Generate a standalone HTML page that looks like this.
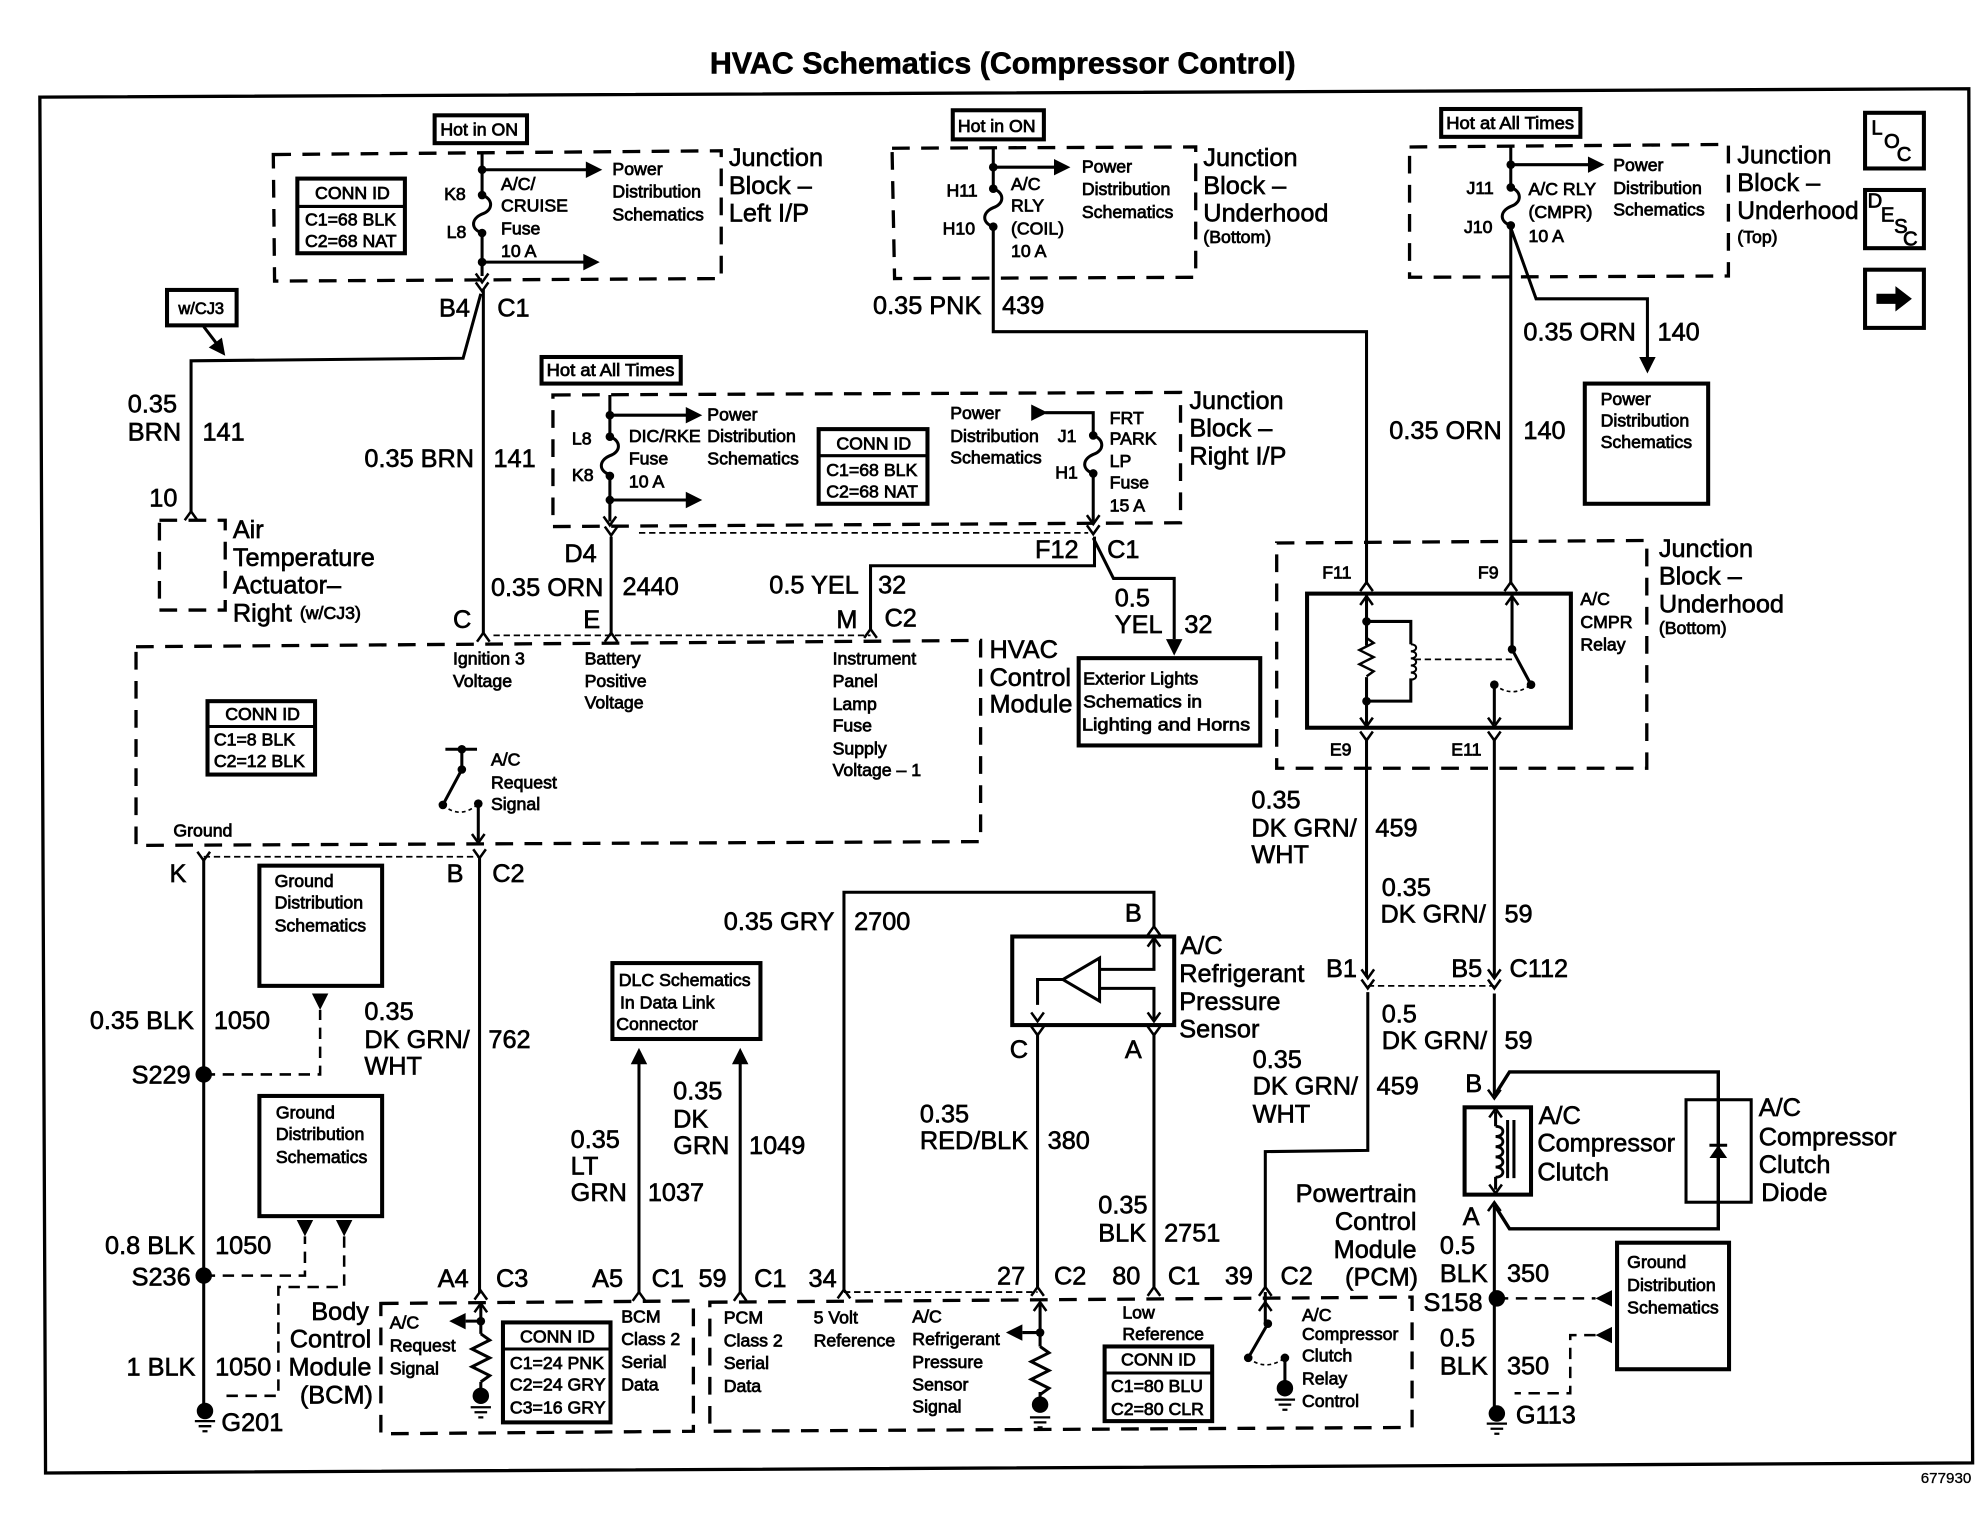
<!DOCTYPE html>
<html><head><meta charset="utf-8"><title>HVAC Schematics (Compressor Control)</title>
<style>
html,body{margin:0;padding:0;background:#fff;width:1984px;height:1520px;overflow:hidden}
svg{display:block}
text{font-family:"Liberation Sans",sans-serif;fill:#000;stroke:#000;stroke-width:.5}
.l text{font-size:20px}
.s text{font-size:14px;stroke-width:.6}
.w{fill:none;stroke:#000;stroke-width:2.4}
.b{fill:none;stroke:#000;stroke-width:3.2}
.d{fill:none;stroke:#000;stroke-width:2.6;stroke-dasharray:14 9}
.t{fill:none;stroke:#000;stroke-width:1.4;stroke-dasharray:5 3}
.a{fill:none;stroke:#000;stroke-width:1.3;stroke-dasharray:3 2.5}
</style></head><body>
<svg xmlns="http://www.w3.org/2000/svg" width="1984" height="1520" viewBox="0 0 1568 1201">
<defs>
<polygon id="ar" points="0,0 -13,-6.5 -13,6.5" fill="#000"/>
<path id="up" d="M-5 6L0 -1L5 6" fill="none" stroke="#000" stroke-width="2"/>
<path id="dn" d="M-5 -6L0 1L5 -6" fill="none" stroke="#000" stroke-width="2"/>
<circle id="p" r="3.4" fill="#000"/>
<circle id="P" r="6.5" fill="#000"/>
<path id="fr" d="M0 0C9 3 9 12 0 15C-9 19 -9 27 0 30" fill="none" stroke="#000" stroke-width="2.4"/>
<path id="zz" d="M0 0L7 5L-7 12L7 19L-7 26L7 33L0 38" fill="none" stroke="#000" stroke-width="2.4"/>
<path id="g" d="M-8 0H8M-5 4H5M-2 8H2" fill="none" stroke="#000" stroke-width="1.8"/>
<path id="coil" d="M0 0c7 0 7 7 0 7c7 0 7 7 0 7c7 0 7 7 0 7c7 0 7 7 0 7c7 0 7 7 0 7" fill="none" stroke="#000" stroke-width="2"/>
</defs>

<text x="561" y="58" style="font-size:24px;font-weight:bold;stroke-width:.45" textLength="463" lengthAdjust="spacingAndGlyphs">HVAC Schematics (Compressor Control)</text>
<polygon class="w" style="stroke-width:2.6" points="31.5,76.6 1556,70 1559,1156 36,1164"/>

<!-- boxes -->
<g class="b">
<rect x="343.500" y="91" width="73" height="22" class="b"/>
<rect x="235" y="141" width="85" height="59" class="b"/>
<rect x="132" y="229" width="55" height="28" class="b"/>
<rect x="428" y="282" width="110" height="21" class="b"/>
<rect x="647" y="339" width="86" height="59" class="b"/>
<rect x="753" y="87" width="72" height="23" class="b"/>
<rect x="1139" y="86" width="110" height="22" class="b"/>
<rect x="852.500" y="520" width="143.500" height="69" class="b"/>
<rect x="164" y="554" width="85" height="58" class="b"/>
<rect x="205" y="684" width="97" height="95" class="b"/>
<rect x="205" y="866" width="97" height="95" class="b"/>
<rect x="397.500" y="1045" width="85" height="79" class="b"/>
<rect x="484" y="761" width="117" height="60" class="b"/>
<rect x="800" y="740" width="128" height="70" class="b"/>
<rect x="873" y="1064" width="85" height="59" class="b"/>
<rect x="1252.500" y="303" width="97.500" height="95" class="b"/>
<rect x="1474" y="89" width="46.500" height="44" class="b"/>
<rect x="1474" y="150" width="46.500" height="46" class="b"/>
<rect x="1474" y="213" width="46.500" height="46" class="b"/>
<rect x="1033" y="469" width="208.500" height="106" class="b"/>
<rect x="1157.500" y="875" width="52.500" height="69" class="b"/>
<rect x="1332.500" y="869" width="51.500" height="81" class="w"/>
<rect x="1278" y="982" width="88.500" height="100" class="b"/>
</g>
<path class="w" d="M235 163H320M647 360H733M164 574H249M397.500 1066H482.500M873 1085H958"/>

<!-- dashed housings -->
<g>
<polygon class="d" points="216,122 570,119 570,220 217,222"/>
<polygon class="d" points="437,312 933,310 933,413 437,416"/>
<polygon class="d" points="705,117 945,116 945,219 707,220"/>
<polygon class="d" points="1114,116 1366,114 1366,218 1114,219"/>
<polygon class="d" points="126,411 178,411 178,482 126,482"/>
<polygon class="d" points="107.500,511 775,506 775,665 107.500,668"/>
<polygon class="d" points="1009,429 1301.500,427 1301.500,607 1009,607"/>
<polygon class="d" points="301,1030 548,1028 548,1131 301,1133"/>
<polygon class="d" points="561,1029 1116,1025 1116,1128 561,1131"/>
</g>

<!-- thin dashed connector shells -->
<path class="t" d="M505 421H860M390 502H688M161 677H379M667 1021H820M1081 779H1181"/>
<path class="d" style="stroke-width:2;stroke-dasharray:9 6" d="M161 849H253V798M161 1008H241V977M272 977V1017H220V1103H175M1183 1026H1261M1261 1055H1241V1101H1197"/>

<!-- wires -->
<path class="w" d="M381 121V154M381 184V218M381 134H464M381 207H462"/>
<path class="w" d="M382 228V500M380 232L366 283L151 285V405M161 258L174 275"/>
<path class="w" d="M482 312V345M482 376V412M482 328H543M482 395H543M483 424V502"/>
<path class="w" d="M826 326H864V344M864 374V412M865 424V447H688V498M864 425L880 457H928V505"/>
<path class="w" d="M785 117V149M785 179V262H1080V462M785 132H833"/>
<path class="w" d="M1194 115V148M1194 178V462M1194 180L1214 236H1302V283M1194 130H1256"/>
<path class="w" d="M365 592V608L350 636M352 592H377M378 635V664"/>
<path class="w" d="M161 678V1115M379 678V1022"/>
<path class="w" d="M505 840V1022M585 840V1022"/>
<path class="w" d="M667 1021V705H912V733"/>
<path class="w" d="M820 816V1018M912 816V1018"/>
<path class="w" d="M840 774H820V794M869 766H912V752M869 781H912V794M912 741V766M912 781V806"/>
<polygon points="840,774 869,757 869,791" fill="#fff" stroke="#000" stroke-width="2.4"/>
<path class="w" d="M380 1030V1054M380 1044H368M380 1092V1103"/>
<path class="w" d="M822 1030V1064M822 1053H808M822 1100V1110"/>
<path class="w" d="M1000 1021V1030M1002 1046L986.500 1073M1000 1030V1046M1015.500 1073V1097"/>
<path class="w" d="M1081 784V909L1000 910V1018"/>
<!-- relay -->
<path class="w" d="M1080 583V772M1181 583V772M1080 470V510M1080 535V574M1080 491H1115V509M1115 536V554H1080M1195 470V513L1210 541M1181 541V572"/>
<path class="t" d="M1118 521H1195"/>
<!-- clutch -->
<path class="w" d="M1181 785V866M1181 952V1117M1182 878V890M1182 930V940"/>
<path class="w" style="stroke-width:2.7" d="M1181 866L1193 847H1358V971H1193L1181 952"/>
<path class="w" d="M1191.500 885V931M1196.500 885V931"/>
<path d="M1351 905H1365" class="w"/>
<polygon points="1358,905 1351,915 1365,915" fill="#000"/>

<!-- fuses, resistors, coils -->
<use href="#fr" transform="translate(381,154)"/>
<use href="#fr" transform="translate(482,345)"/>
<use href="#fr" transform="translate(864,344)"/>
<use href="#fr" transform="translate(785,149)"/>
<use href="#fr" transform="translate(1194,148)"/>
<use href="#zz" transform="translate(380,1054)"/>
<use href="#zz" transform="translate(822,1064)"/>
<use href="#zz" transform="translate(1080,504) scale(.8)"/>
<use href="#coil" transform="translate(1115,509) scale(.8,.8)"/>
<use href="#coil" transform="translate(1182,890) scale(1.1,1.15)"/>

<!-- dots -->
<g>
<use href="#p" x="381" y="134"/><use href="#p" x="381" y="154"/><use href="#p" x="381" y="184"/><use href="#p" x="381" y="207"/>
<use href="#p" x="482" y="328"/><use href="#p" x="482" y="345"/><use href="#p" x="482" y="376"/><use href="#p" x="482" y="395"/>
<use href="#p" x="864" y="344"/><use href="#p" x="864" y="374"/>
<use href="#p" x="785" y="132"/><use href="#p" x="785" y="149"/><use href="#p" x="785" y="179"/>
<use href="#p" x="1194" y="130"/><use href="#p" x="1194" y="148"/><use href="#p" x="1194" y="178"/>
<use href="#p" x="365" y="592"/><use href="#p" x="365" y="608"/><use href="#p" x="350" y="636"/><use href="#p" x="378" y="635"/>
<use href="#p" x="1080" y="491"/><use href="#p" x="1080" y="554"/><use href="#p" x="1195" y="513"/><use href="#p" x="1210" y="541"/><use href="#p" x="1181" y="541"/>
<use href="#p" x="380" y="1044"/><use href="#p" x="822" y="1053"/><use href="#p" x="1002" y="1046"/><use href="#p" x="986.500" y="1073"/><use href="#p" x="1015.500" y="1073"/>
<use href="#P" x="161" y="849"/><use href="#P" x="161" y="1008"/><use href="#P" x="162" y="1115"/>
<use href="#P" x="380" y="1103"/><use href="#P" x="822" y="1110"/><use href="#P" x="1015.500" y="1097"/>
<use href="#P" x="1183" y="1026"/><use href="#P" x="1183" y="1117"/>
</g>
<use href="#g" x="162" y="1123"/><use href="#g" x="380" y="1112"/><use href="#g" x="822" y="1120"/><use href="#g" x="1015.500" y="1106"/><use href="#g" x="1183" y="1125"/>

<!-- dashed arcs of switches -->
<path class="a" d="M350 636Q364 648 378 635"/>
<path class="a" d="M986.500 1073Q1000 1084 1015.500 1073"/>
<path class="a" d="M1181 541Q1195 552 1210 541"/>

<!-- arrowheads -->
<use href="#ar" transform="translate(476,134)"/>
<use href="#ar" transform="translate(474,207)"/>
<use href="#ar" transform="translate(555,328)"/>
<use href="#ar" transform="translate(555,395)"/>
<use href="#ar" transform="translate(828,326)"/>
<use href="#ar" transform="translate(846,132)"/>
<use href="#ar" transform="translate(1268,130)"/>
<use href="#ar" transform="translate(178,281) rotate(53)"/>
<use href="#ar" transform="translate(928,518) rotate(90)"/>
<use href="#ar" transform="translate(1302,295) rotate(90)"/>
<use href="#ar" transform="translate(253,798) rotate(90)"/>
<use href="#ar" transform="translate(241,977) rotate(90)"/>
<use href="#ar" transform="translate(272,977) rotate(90)"/>
<use href="#ar" transform="translate(505,828) rotate(-90)"/>
<use href="#ar" transform="translate(585,828) rotate(-90)"/>
<use href="#ar" transform="translate(355,1044) rotate(180)"/>
<use href="#ar" transform="translate(795,1053) rotate(180)"/>
<use href="#ar" transform="translate(1261,1026) rotate(180)"/>
<use href="#ar" transform="translate(1261,1055) rotate(180)"/>
<polygon points="1511,236 1498,226 1498,232 1483,232 1483,240 1498,240 1498,246" fill="#000"/>

<!-- connector pins -->
<use href="#dn" x="381" y="222"/><use href="#dn" x="482" y="414"/><use href="#dn" x="864" y="413"/><use href="#dn" x="378" y="665"/>
<use href="#dn" x="381" y="229"/><use href="#dn" x="483" y="422"/><use href="#dn" x="864" y="421"/><use href="#dn" x="161" y="679"/><use href="#dn" x="379" y="677"/>
<use href="#up" x="151" y="405"/><use href="#up" x="382" y="501"/><use href="#up" x="483" y="501"/><use href="#up" x="688" y="498"/>
<use href="#up" x="1080" y="461"/><use href="#up" x="1194" y="461"/><use href="#up" x="1080" y="472"/><use href="#up" x="1195" y="472"/>
<use href="#dn" x="1080" y="573"/><use href="#dn" x="1181" y="573"/><use href="#dn" x="1080" y="584"/><use href="#dn" x="1181" y="584"/>
<use href="#dn" x="1081" y="772"/><use href="#dn" x="1181" y="772"/><use href="#dn" x="1081" y="780"/><use href="#dn" x="1181" y="780"/>
<use href="#up" x="912" y="733"/><use href="#up" x="912" y="742"/><use href="#dn" x="820" y="806"/><use href="#dn" x="912" y="806"/><use href="#dn" x="820" y="817"/><use href="#dn" x="912" y="817"/>
<use href="#dn" x="1181" y="867"/><use href="#up" x="1182" y="877"/><use href="#dn" x="1182" y="942"/><use href="#up" x="1181" y="951"/>
<use href="#up" x="380" y="1021"/><use href="#up" x="380" y="1031"/><use href="#up" x="505" y="1022"/><use href="#up" x="585" y="1022"/><use href="#up" x="667" y="1020"/>
<use href="#up" x="820" y="1018"/><use href="#up" x="822" y="1030"/><use href="#up" x="912" y="1018"/><use href="#up" x="1000" y="1018"/><use href="#up" x="1000" y="1030"/>

<!-- small text -->
<g class="s">
<text x="348" y="107">Hot in ON</text>
<text x="249" y="157">CONN ID</text><text x="241" y="178">C1=68 BLK</text><text x="241" y="195">C2=68 NAT</text>
<text x="351" y="158">K8</text><text x="353" y="188">L8</text>
<text x="396" y="150">A/C/</text><text x="396" y="167">CRUISE</text><text x="396" y="185">Fuse</text><text x="396" y="203">10 A</text>
<text x="484" y="138">Power</text><text x="484" y="156">Distribution</text><text x="484" y="174">Schematics</text>
<text x="141" y="248" style="font-size:13px">w/CJ3</text>
<text x="237" y="489">(w/CJ3)</text>
<text x="432" y="297" textLength="101" lengthAdjust="spacingAndGlyphs">Hot at All Times</text>
<text x="452" y="351">L8</text><text x="452" y="380">K8</text>
<text x="497" y="349">DIC/RKE</text><text x="497" y="367">Fuse</text><text x="497" y="385">10 A</text>
<text x="559" y="332">Power</text><text x="559" y="349">Distribution</text><text x="559" y="367">Schematics</text>
<text x="661" y="355">CONN ID</text><text x="653" y="376">C1=68 BLK</text><text x="653" y="393">C2=68 NAT</text>
<text x="751" y="331">Power</text><text x="751" y="349">Distribution</text><text x="751" y="366">Schematics</text>
<text x="836" y="349">J1</text><text x="834" y="378">H1</text>
<text x="877" y="335">FRT</text><text x="877" y="351">PARK</text><text x="877" y="369">LP</text><text x="877" y="386">Fuse</text><text x="877" y="404">15 A</text>
<text x="757" y="104">Hot in ON</text>
<text x="748" y="155">H11</text><text x="745" y="185">H10</text>
<text x="799" y="150">A/C</text><text x="799" y="167">RLY</text><text x="799" y="185">(COIL)</text><text x="799" y="203">10 A</text>
<text x="855" y="136">Power</text><text x="855" y="154">Distribution</text><text x="855" y="172">Schematics</text>
<text x="951" y="192">(Bottom)</text>
<text x="1143" y="102" textLength="101" lengthAdjust="spacingAndGlyphs">Hot at All Times</text>
<text x="1159" y="153">J11</text><text x="1157" y="184">J10</text>
<text x="1208" y="154">A/C RLY</text><text x="1208" y="172">(CMPR)</text><text x="1208" y="191">10 A</text>
<text x="1275" y="135">Power</text><text x="1275" y="153">Distribution</text><text x="1275" y="170">Schematics</text>
<text x="1373" y="192">(Top)</text>
<text x="1265" y="320">Power</text><text x="1265" y="337">Distribution</text><text x="1265" y="354">Schematics</text>
<text x="1479" y="106" style="font-size:16px">L</text><text x="1489" y="117" style="font-size:16px">O</text><text x="1499" y="127" style="font-size:16px">C</text>
<text x="1476" y="164" style="font-size:16px">D</text><text x="1486.500" y="175" style="font-size:16px">E</text><text x="1497" y="184" style="font-size:16px">S</text><text x="1504" y="194" style="font-size:16px">C</text>
<text x="1045" y="457">F11</text><text x="1168" y="457">F9</text><text x="1051" y="597">E9</text><text x="1147" y="597">E11</text>
<text x="1249" y="478">A/C</text><text x="1249" y="496">CMPR</text><text x="1249" y="514">Relay</text>
<text x="1311" y="501">(Bottom)</text>
<text x="856" y="541" textLength="91" lengthAdjust="spacingAndGlyphs">Exterior Lights</text><text x="856" y="559" textLength="94" lengthAdjust="spacingAndGlyphs">Schematics in</text><text x="855" y="577" textLength="133" lengthAdjust="spacingAndGlyphs">Lighting and Horns</text>
<text x="358" y="525">Ignition 3</text><text x="358" y="543">Voltage</text>
<text x="462" y="525">Battery</text><text x="462" y="543">Positive</text><text x="462" y="560">Voltage</text>
<text x="658" y="525">Instrument</text><text x="658" y="543">Panel</text><text x="658" y="561">Lamp</text><text x="658" y="578">Fuse</text><text x="658" y="596">Supply</text><text x="658" y="613">Voltage – 1</text>
<text x="178" y="569">CONN ID</text><text x="169" y="589">C1=8 BLK</text><text x="169" y="606">C2=12 BLK</text>
<text x="388" y="605">A/C</text><text x="388" y="623">Request</text><text x="388" y="640">Signal</text>
<text x="137" y="661">Ground</text>
<text x="217" y="701">Ground</text><text x="217" y="718">Distribution</text><text x="217" y="736">Schematics</text>
<text x="218" y="884">Ground</text><text x="218" y="901">Distribution</text><text x="218" y="919">Schematics</text>
<text x="489" y="779">DLC Schematics</text><text x="490" y="797">In Data Link</text><text x="487" y="814">Connector</text>
<text x="308" y="1050">A/C</text><text x="308" y="1068">Request</text><text x="308" y="1086">Signal</text>
<text x="411" y="1061">CONN ID</text><text x="403" y="1082">C1=24 PNK</text><text x="403" y="1099">C2=24 GRY</text><text x="403" y="1117">C3=16 GRY</text>
<text x="491" y="1045">BCM</text><text x="491" y="1063">Class 2</text><text x="491" y="1081">Serial</text><text x="491" y="1099">Data</text>
<text x="572" y="1046">PCM</text><text x="572" y="1064">Class 2</text><text x="572" y="1082">Serial</text><text x="572" y="1100">Data</text>
<text x="643" y="1046">5 Volt</text><text x="643" y="1064">Reference</text>
<text x="721" y="1045">A/C</text><text x="721" y="1063">Refrigerant</text><text x="721" y="1081">Pressure</text><text x="721" y="1099">Sensor</text><text x="721" y="1116">Signal</text>
<text x="887" y="1042">Low</text><text x="887" y="1059">Reference</text>
<text x="886" y="1079">CONN ID</text><text x="878" y="1100">C1=80 BLU</text><text x="878" y="1118">C2=80 CLR</text>
<text x="1029" y="1044">A/C</text><text x="1029" y="1059">Compressor</text><text x="1029" y="1076">Clutch</text><text x="1029" y="1094">Relay</text><text x="1029" y="1112">Control</text>
<text x="1286" y="1002">Ground</text><text x="1286" y="1020">Distribution</text><text x="1286" y="1038">Schematics</text>
<text x="1518" y="1172" style="font-size:12px;stroke-width:.25">677930</text>
</g>

<!-- large text -->
<g class="l">
<text x="576" y="131">Junction</text><text x="576" y="153">Block –</text><text x="576" y="175">Left I/P</text>
<text x="347" y="250">B4</text><text x="393" y="250">C1</text>
<text x="101" y="326">0.35</text><text x="101" y="348">BRN</text><text x="160" y="348">141</text>
<text x="288" y="369">0.35 BRN</text><text x="390" y="369">141</text>
<text x="118" y="400">10</text>
<text x="184" y="425">Air</text><text x="184" y="447">Temperature</text><text x="184" y="469">Actuator–</text><text x="184" y="491">Right</text>
<text x="940" y="323">Junction</text><text x="940" y="345">Block –</text><text x="940" y="367">Right I/P</text>
<text x="446" y="444">D4</text><text x="388" y="471">0.35 ORN</text><text x="492" y="470">2440</text>
<text x="358" y="496">C</text><text x="461" y="496">E</text><text x="661" y="496">M</text><text x="699" y="495">C2</text>
<text x="608" y="469">0.5 YEL</text><text x="694" y="469">32</text>
<text x="818" y="441">F12</text><text x="875" y="441">C1</text>
<text x="881" y="479">0.5</text><text x="881" y="500">YEL</text><text x="936" y="500">32</text>
<text x="782" y="520">HVAC</text><text x="782" y="542">Control</text><text x="782" y="563">Module</text>
<text x="951" y="131">Junction</text><text x="951" y="153">Block –</text><text x="951" y="175">Underhood</text>
<text x="690" y="248">0.35 PNK</text><text x="792" y="248">439</text>
<text x="1373" y="129">Junction</text><text x="1373" y="151">Block –</text><text x="1373" y="173" textLength="96" lengthAdjust="spacingAndGlyphs">Underhood</text>
<text x="1204" y="269">0.35 ORN</text><text x="1310" y="269">140</text>
<text x="1098" y="347">0.35 ORN</text><text x="1204" y="347">140</text>
<text x="1311" y="440">Junction</text><text x="1311" y="462">Block –</text><text x="1311" y="484">Underhood</text>
<text x="989" y="639">0.35</text><text x="989" y="661">DK GRN/</text><text x="989" y="682">WHT</text><text x="1087" y="661">459</text>
<text x="1092" y="708">0.35</text><text x="1091" y="729">DK GRN/</text><text x="1189" y="729">59</text>
<text x="1048" y="772">B1</text><text x="1147" y="772">B5</text><text x="1193" y="772">C112</text>
<text x="1092" y="808">0.5</text><text x="1092" y="829">DK GRN/</text><text x="1189" y="829">59</text>
<text x="990" y="844">0.35</text><text x="990" y="865">DK GRN/</text><text x="990" y="887">WHT</text><text x="1088" y="865">459</text>
<text x="134" y="697">K</text><text x="353" y="697">B</text><text x="389" y="697">C2</text>
<text x="71" y="813">0.35 BLK</text><text x="169" y="813">1050</text><text x="104" y="856">S229</text>
<text x="288" y="806">0.35</text><text x="288" y="828">DK GRN/</text><text x="288" y="849">WHT</text><text x="386" y="828">762</text>
<text x="83" y="991">0.8 BLK</text><text x="170" y="991">1050</text><text x="104" y="1016">S236</text>
<text x="100" y="1087">1 BLK</text><text x="170" y="1087">1050</text><text x="175" y="1131">G201</text>
<text x="246" y="1043">Body</text><text x="229" y="1065">Control</text><text x="228" y="1087">Module</text><text x="237" y="1109">(BCM)</text>
<text x="346" y="1017">A4</text><text x="392" y="1017">C3</text>
<text x="468" y="1017">A5</text><text x="515" y="1017">C1</text><text x="552" y="1017">59</text><text x="596" y="1017">C1</text><text x="639" y="1017">34</text>
<text x="451" y="907">0.35</text><text x="451" y="928">LT</text><text x="451" y="949">GRN</text><text x="512" y="949">1037</text>
<text x="532" y="869">0.35</text><text x="532" y="891">DK</text><text x="532" y="912">GRN</text><text x="592" y="912">1049</text>
<text x="572" y="735">0.35 GRY</text><text x="675" y="735">2700</text>
<text x="889" y="728">B</text><text x="798" y="836">C</text><text x="889" y="836">A</text>
<text x="933" y="754">A/C</text><text x="932" y="776">Refrigerant</text><text x="932" y="798">Pressure</text><text x="932" y="820">Sensor</text>
<text x="727" y="887">0.35</text><text x="727" y="908">RED/BLK</text><text x="828" y="908">380</text>
<text x="868" y="959">0.35</text><text x="868" y="981">BLK</text><text x="920" y="981">2751</text>
<text x="788" y="1015">27</text><text x="833" y="1015">C2</text><text x="879" y="1015">80</text><text x="923" y="1015">C1</text><text x="968" y="1015">39</text><text x="1012" y="1015">C2</text>
<text x="1024" y="950">Powertrain</text><text x="1055" y="972">Control</text><text x="1054" y="994">Module</text><text x="1063" y="1016">(PCM)</text>
<text x="1158" y="863">B</text>
<text x="1216" y="888">A/C</text><text x="1215" y="910">Compressor</text><text x="1215" y="933">Clutch</text>
<text x="1390" y="882">A/C</text><text x="1390" y="905">Compressor</text><text x="1390" y="927">Clutch</text><text x="1392" y="949">Diode</text>
<text x="1156" y="968">A</text>
<text x="1138" y="991">0.5</text><text x="1138" y="1013">BLK</text><text x="1191" y="1013">350</text><text x="1125" y="1036">S158</text>
<text x="1138" y="1064">0.5</text><text x="1138" y="1086">BLK</text><text x="1191" y="1086">350</text><text x="1198" y="1125">G113</text>
</g>
</svg>
</body></html>
